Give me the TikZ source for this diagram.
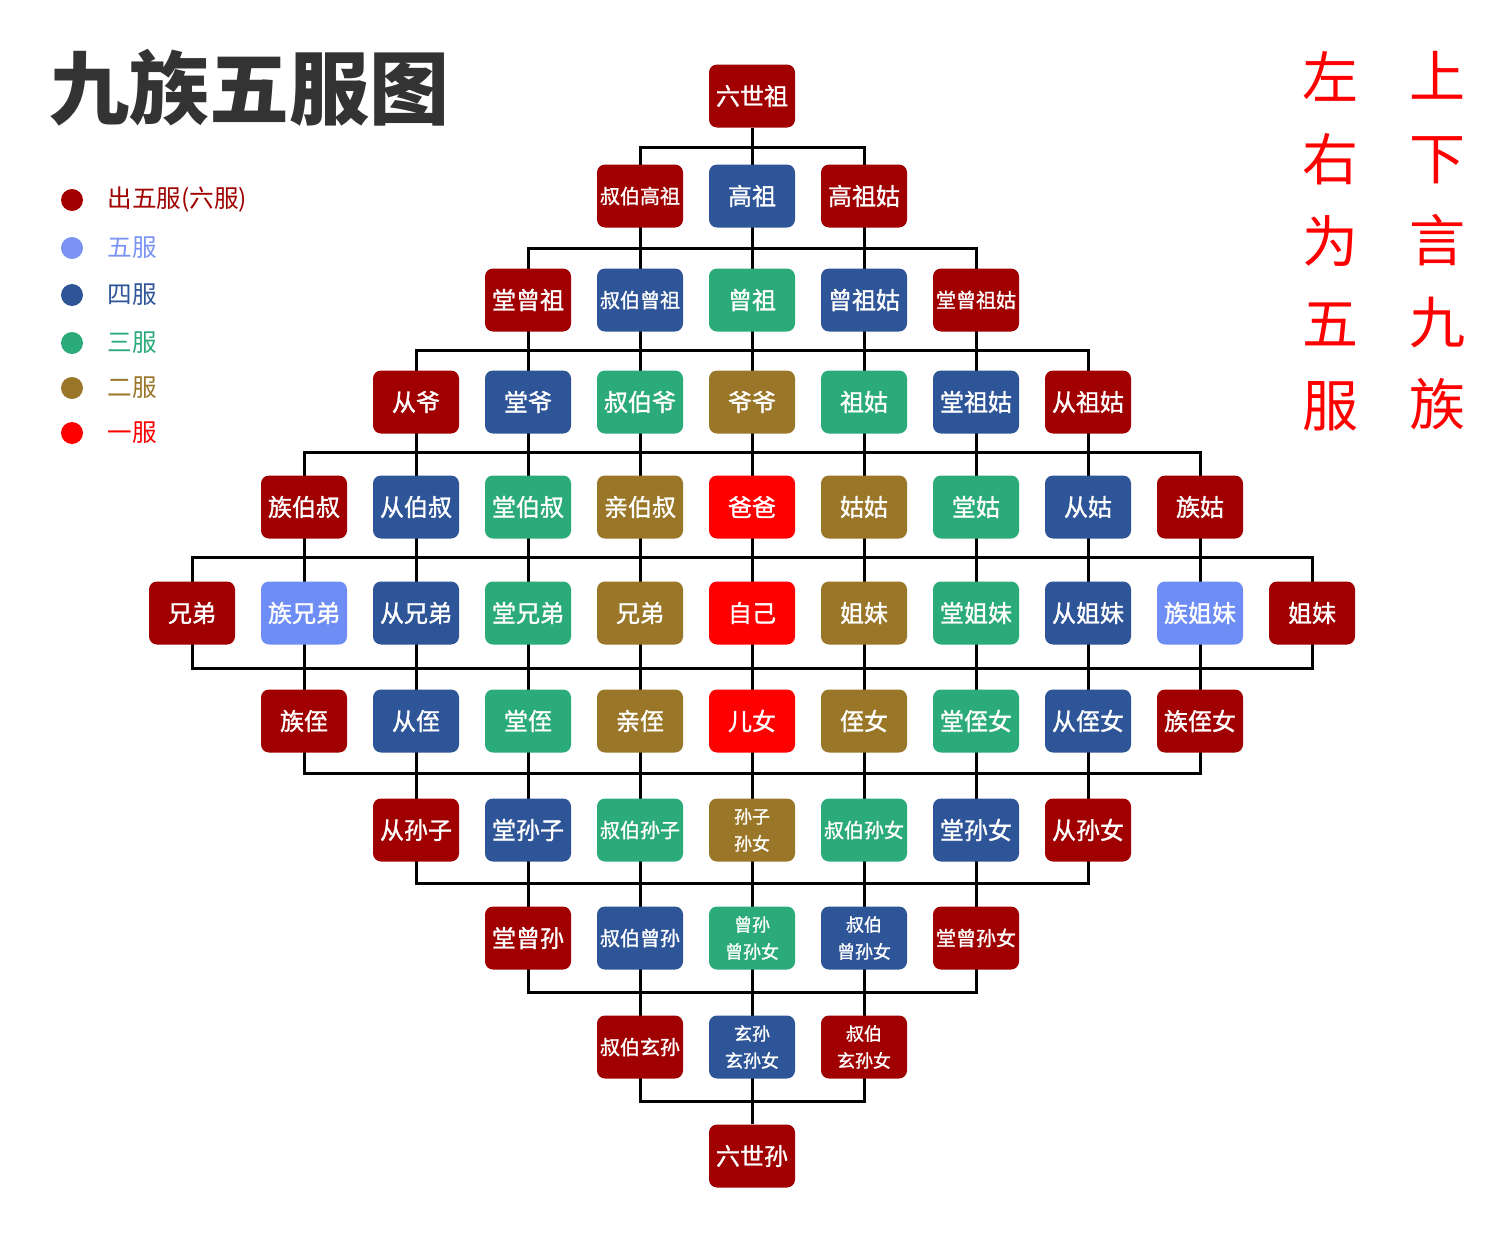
\documentclass[tikz,border=0pt]{standalone}
\usepackage{fontspec}
\newfontfamily\cjk{Noto Sans CJK SC}
\newfontfamily\cjkm[FakeBold=1.2]{Noto Sans CJK SC}
\usetikzlibrary{backgrounds}
\definecolor{dred}{HTML}{A00000}
\definecolor{kblue}{HTML}{2E5597}
\definecolor{kgreen}{HTML}{2BAA7A}
\definecolor{kgold}{HTML}{9A7628}
\definecolor{kred}{HTML}{FF0000}
\definecolor{lblue}{HTML}{6F8EF5}
\definecolor{ldot}{HTML}{7B93F5}
\definecolor{ink}{HTML}{333333}
\tikzset{
  kin/.style={rounded corners=4pt, minimum width=43pt, minimum height=31.5pt,
    inner sep=0pt, text=white, align=center},
  k3/.style={font=\cjkm\fontsize{12}{13}\selectfont},
  k4/.style={font=\cjkm\fontsize{10}{12}\selectfont},
  k2/.style={font=\cjkm\fontsize{9}{13.5}\selectfont},
  bar/.style={line width=1.5pt, black},
  dot/.style={circle, inner sep=0pt, minimum size=11pt},
  legtext/.style={anchor=west, inner sep=0pt, font=\cjk\fontsize{12.3}{14}\selectfont},
  verse/.style={text=kred, align=center, font=\cjk\fontsize{28}{41}\selectfont},
}
\begin{document}
\begin{tikzpicture}[x=0.5pt,y=-0.5pt]
\useasboundingbox (0,0) rectangle (1500,1242);
% title
\node[text=ink, inner sep=0pt, font=\cjk\bfseries\fontsize{40}{40}\selectfont] (title) at (249,88) {九族五服图};
% legend
\foreach \i/\y/\cl/\t in {1/200/dred/出五服(六服), 2/248/ldot/五服, 3/295/kblue/四服, 4/343/kgreen/三服, 5/388/kgold/二服, 6/433/kred/一服}{
  \node[dot, fill=\cl] (d\i) at (72,\y) {};
  \node[legtext, text=\cl] (l\i) at (107,\y) {\t};
}
% verse
\node[verse] (vl) at (1330,241) {左\\右\\为\\五\\服};
\node[verse] (vr) at (1437,241) {上\\下\\言\\九\\族};
% kin nodes
\def\ry{{96,196,300,402,507,613,721,830,938,1047,1156}}
\foreach \r/\c/\cl/\st/\t in {
  0/0/dred/k3/六世祖,
  1/-1/dred/k4/叔伯高祖, 1/0/kblue/k3/高祖, 1/1/dred/k3/高祖姑,
  2/-2/dred/k3/堂曾祖, 2/-1/kblue/k4/叔伯曾祖, 2/0/kgreen/k3/曾祖, 2/1/kblue/k3/曾祖姑, 2/2/dred/k4/堂曾祖姑,
  3/-3/dred/k3/从爷, 3/-2/kblue/k3/堂爷, 3/-1/kgreen/k3/叔伯爷, 3/0/kgold/k3/爷爷, 3/1/kgreen/k3/祖姑, 3/2/kblue/k3/堂祖姑, 3/3/dred/k3/从祖姑,
  4/-4/dred/k3/族伯叔, 4/-3/kblue/k3/从伯叔, 4/-2/kgreen/k3/堂伯叔, 4/-1/kgold/k3/亲伯叔, 4/0/kred/k3/爸爸, 4/1/kgold/k3/姑姑, 4/2/kgreen/k3/堂姑, 4/3/kblue/k3/从姑, 4/4/dred/k3/族姑,
  5/-5/dred/k3/兄弟, 5/-4/lblue/k3/族兄弟, 5/-3/kblue/k3/从兄弟, 5/-2/kgreen/k3/堂兄弟, 5/-1/kgold/k3/兄弟, 5/0/kred/k3/自己, 5/1/kgold/k3/姐妹, 5/2/kgreen/k3/堂姐妹, 5/3/kblue/k3/从姐妹, 5/4/lblue/k3/族姐妹, 5/5/dred/k3/姐妹,
  6/-4/dred/k3/族侄, 6/-3/kblue/k3/从侄, 6/-2/kgreen/k3/堂侄, 6/-1/kgold/k3/亲侄, 6/0/kred/k3/儿女, 6/1/kgold/k3/侄女, 6/2/kgreen/k3/堂侄女, 6/3/kblue/k3/从侄女, 6/4/dred/k3/族侄女,
  7/-3/dred/k3/从孙子, 7/-2/kblue/k3/堂孙子, 7/-1/kgreen/k4/叔伯孙子, 7/0/kgold/k2/{孙子\\孙女}, 7/1/kgreen/k4/叔伯孙女, 7/2/kblue/k3/堂孙女, 7/3/dred/k3/从孙女,
  8/-2/dred/k3/堂曾孙, 8/-1/kblue/k4/叔伯曾孙, 8/0/kgreen/k2/{曾孙\\曾孙女}, 8/1/kblue/k2/{叔伯\\曾孙女}, 8/2/dred/k4/堂曾孙女,
  9/-1/dred/k4/叔伯玄孙, 9/0/kblue/k2/{玄孙\\玄孙女}, 9/1/dred/k2/{叔伯\\玄孙女},
  10/0/dred/k3/六世孙}{
  \pgfmathsetmacro\yy{\ry[\r]}
  \pgfmathsetmacro\xx{752+112*\c}
  \node[kin,\st,fill=\cl] (n\r x\c) at (\xx,\yy) {\t};
}
% connectors (nested frames + central spine)
\begin{scope}[on background layer]
  \fill[white] (0,0) rectangle (1500,1242);
  \draw[bar] (n0x0) -- (n10x0);
  \foreach \k/\yt/\yb in {1/147/1101, 2/248/992, 3/350/883, 4/452/773, 5/557/668}{
    \coordinate (tl\k) at (752-112*\k,\yt);
    \coordinate (br\k) at (752+112*\k,\yb);
    \draw[bar] (tl\k) rectangle (br\k);
  }
\end{scope}
\end{tikzpicture}
\end{document}
